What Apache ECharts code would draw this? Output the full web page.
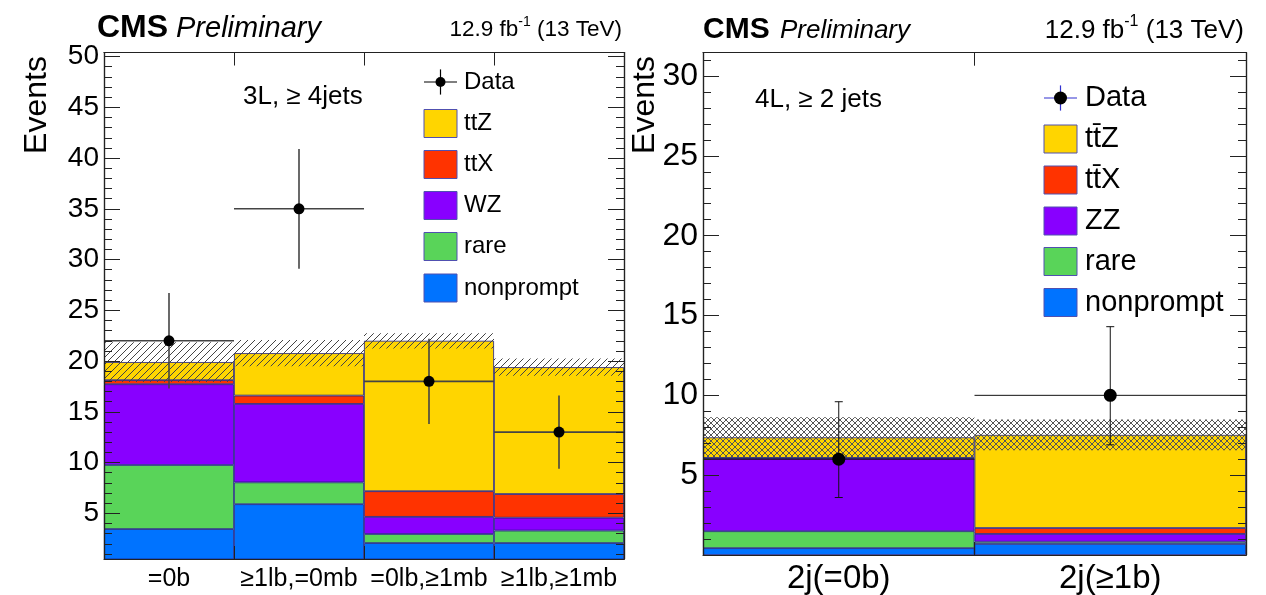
<!DOCTYPE html>
<html><head><meta charset="utf-8">
<script src="https://cdn.jsdelivr.net/npm/echarts@6/dist/echarts.min.js"></script>
<style>html,body{margin:0;padding:0;background:#fff}#c{width:1266px;height:595px}</style>
</head><body><div id="c"></div>
<script>
// ---------- Left panel: 3L, >= 4 jets ----------
const catsL = ['=0b', '≥1lb,=0mb', '=0lb,≥1mb', '≥1lb,≥1mb'];
const nonpromptL = [3.45, 5.90, 2.07, 2.07];
const rareL      = [6.31, 2.15, 0.89, 1.23];
const wzL        = [7.96, 7.73, 1.69, 1.27];
const ttxL       = [0.40, 0.82, 2.53, 2.33];
const ttzL       = [1.78, 4.18, 14.82, 12.50];
const uncL       = [1.95, 1.30, 0.75, 0.85];
const dataL      = [22, 35, 18, 13];
const dataErrLoL = [4.7, 5.9, 4.2, 3.6];
const dataErrHiL = [4.7, 5.9, 4.2, 3.6];
const yMajorL = [5, 10, 15, 20, 25, 30, 35, 40, 45, 50];
const yMinorL = [1,2,3,4,5,6,7,8,9,10,11,12,13,14,15,16,17,18,19,20,21,22,23,24,25,26,27,28,29,30,31,32,33,34,35,36,37,38,39,40,41,42,43,44,45,46,47,48,49,50];
const yRangeL = [0.5, 50.4];

// ---------- Right panel: 4L, >= 2 jets ----------
const catsR = ['2j(=0b)', '2j(≥1b)'];
const nonpromptR = [0.43, 0.69];
const rareR      = [1.06, 0.14];
const zzR        = [4.57, 0.49];
const ttxR       = [0.02, 0.37];
const ttzR       = [1.29, 5.83];
const uncR       = [1.26, 0.96];
const dataR      = [6, 10];
const dataErrLoR = [2.4, 3.1];
const dataErrHiR = [3.6, 4.3];
const yMajorR = [5, 10, 15, 20, 25, 30];
const yMinorR = [1,2,3,4,5,6,7,8,9,10,11,12,13,14,15,16,17,18,19,20,21,22,23,24,25,26,27,28,29,30,31];
const yRangeR = [0, 31.46];

// ---------- styles ----------
const COL = {ttz: '#ffd500', ttx: '#ff3300', vv: '#8800ff', rare: '#59d459', np: '#0073ff'};
const EDGE = '#1e1e80';
const FONT = '"Liberation Sans", Arial, Helvetica, sans-serif';

function hatchCanvas(cross, step, color) {
  const c = document.createElement('canvas');
  c.width = step; c.height = step;
  const g = c.getContext('2d');
  g.strokeStyle = color; g.lineWidth = 1;
  g.beginPath();
  g.moveTo(-1, step + 1); g.lineTo(step + 1, -1);
  g.moveTo(-1, 1); g.lineTo(1, -1);
  g.moveTo(step - 1, step + 1); g.lineTo(step + 1, step - 1);
  if (cross) {
    g.moveTo(-1, -1); g.lineTo(step + 1, step + 1);
    g.moveTo(step - 1, -1); g.lineTo(step + 1, 1);
    g.moveTo(-1, step - 1); g.lineTo(1, step + 1);
  }
  g.stroke();
  return c;
}
const hatchL = hatchCanvas(false, 7, '#444');
const hatchR = hatchCanvas(true, 6, '#555');

function sumArr(arrs) { return arrs[0].map((_, i) => arrs.reduce((s, a) => s + a[i], 0)); }
const totalL = sumArr([nonpromptL, rareL, wzL, ttxL, ttzL]);
const totalR = sumArr([nonpromptR, rareR, zzR, ttxR, ttzR]);

function barSeries(name, vals, color, xi, yi, stack) {
  return {type: 'bar', name, data: vals, stack, xAxisIndex: xi, yAxisIndex: yi,
    barWidth: '100%', barCategoryGap: '0%', z: 2, silent: true,
    itemStyle: {color, borderColor: EDGE, borderWidth: 0.8}};
}
function bandSeries(total, unc, hatch, xi, yi) {
  return {type: 'custom', xAxisIndex: xi, yAxisIndex: yi, z: 3, silent: true, clip: true,
    data: total.map((t, i) => [i, t, unc[i]]),
    renderItem(params, api) {
      const i = api.value(0), t = api.value(1), u = api.value(2);
      const c = api.coord([i, t]);
      const w = api.size([1, 0])[0];
      const top = api.coord([i, t + u])[1];
      const bot = api.coord([i, t - u])[1];
      return {type: 'rect', shape: {x: c[0] - w / 2, y: top, width: w, height: bot - top},
        style: {fill: {image: hatch, repeat: 'repeat'}, stroke: null}};
    }};
}
function dataSeries(vals, lo, hi, xi, yi, r, lineCol, lw, cap) {
  return {type: 'custom', xAxisIndex: xi, yAxisIndex: yi, z: 4, silent: true, clip: false,
    data: vals.map((v, i) => [i, v]),
    renderItem(params, api) {
      const i = api.value(0), v = api.value(1);
      const c = api.coord([i, v]);
      const w = api.size([1, 0])[0];
      const top = api.coord([i, v + hi[i]])[1];
      const bot = api.coord([i, v - lo[i]])[1];
      const st = {stroke: lineCol, lineWidth: lw};
      const ch = [
        {type: 'line', shape: {x1: c[0] - w / 2, y1: c[1], x2: c[0] + w / 2, y2: c[1]}, style: st},
        {type: 'line', shape: {x1: c[0], y1: top, x2: c[0], y2: bot}, style: st}
      ];
      if (cap) {
        ch.push({type: 'line', shape: {x1: c[0] - cap, y1: top, x2: c[0] + cap, y2: top}, style: st});
        ch.push({type: 'line', shape: {x1: c[0] - cap, y1: bot, x2: c[0] + cap, y2: bot}, style: st});
      }
      ch.push({type: 'circle', shape: {cx: c[0], cy: c[1], r}, style: {fill: '#000'}});
      return {type: 'group', children: ch};
    }};
}

function xAxes(cats, gi, labelSize, labelMargin) {
  const common = {type: 'category', data: cats, gridIndex: gi, boundaryGap: true, z: 10,
    axisLine: {show: true, onZero: false, lineStyle: {color: '#222', width: 1.2}},
    axisTick: {show: true, inside: true, length: 13, alignWithLabel: false, lineStyle: {color: '#222', width: 1}},
    splitLine: {show: false}};
  return [
    Object.assign({}, common, {position: 'bottom',
      axisLabel: {show: true, interval: 0, color: '#000', fontFamily: FONT, fontSize: labelSize, margin: labelMargin}}),
    Object.assign({}, common, {position: 'top', axisLabel: {show: false}})
  ];
}
function yAxes(range, major, minor, gi, labelSize) {
  const base = {type: 'value', gridIndex: gi, min: range[0], max: range[1], z: 10,
    splitLine: {show: false}, axisLine: {show: true, onZero: false, lineStyle: {color: '#222', width: 1.2}}};
  const majorTick = {show: true, inside: true, length: 16, customValues: major, lineStyle: {color: '#222', width: 1}};
  const minorTick = {show: true, inside: true, length: 8, customValues: minor, lineStyle: {color: '#222', width: 1}};
  return [
    Object.assign({}, base, {position: 'left', axisTick: majorTick,
      axisLabel: {show: true, customValues: major, color: '#000', fontFamily: FONT, fontSize: labelSize, margin: 5}}),
    Object.assign({}, base, {position: 'left', axisTick: minorTick, axisLabel: {show: false}}),
    Object.assign({}, base, {position: 'right', axisTick: majorTick, axisLabel: {show: false}}),
    Object.assign({}, base, {position: 'right', axisTick: minorTick, axisLabel: {show: false}})
  ];
}

// ---------- text helpers ----------
const measureCtx = document.createElement('canvas').getContext('2d');
function tw(t, font) { measureCtx.font = font; return measureCtx.measureText(t).width; }
function txt(text, x, y, size, opts) {
  opts = opts || {};
  const font = (opts.italic ? 'italic ' : '') + (opts.bold ? 'bold ' : '') + size + 'px ' + FONT;
  return {type: 'text', x, y, rotation: opts.rotation || 0, z: 20, silent: true,
    style: {text, font, fill: '#000', align: opts.align || 'left', verticalAlign: 'middle'}};
}
function lumi(xRight, yMid, size) {
  const f = size + 'px ' + FONT;
  const fsz = Math.round(size * 0.62);
  const fs = fsz + 'px ' + FONT;
  const a = '12.9 fb', b = '-1', c = ' (13 TeV)';
  const w1 = tw(a, f), w2 = tw(b, fs), w3 = tw(c, f);
  const x0 = xRight - w1 - w2 - w3;
  return [txt(a, x0, yMid, size), txt(b, x0 + w1, yMid - size * 0.36, fsz), txt(c, x0 + w1 + w2, yMid, size)];
}
function legend(x0, rows, boxW, boxH, textX, size, dataLineCol) {
  const els = [];
  rows.forEach((r) => {
    if (r.data) {
      els.push({type: 'line', z: 20, shape: {x1: x0, y1: r.y, x2: x0 + boxW, y2: r.y}, style: {stroke: dataLineCol, lineWidth: 1.2}});
      els.push({type: 'line', z: 20, shape: {x1: x0 + boxW / 2, y1: r.y - boxH * 0.45, x2: x0 + boxW / 2, y2: r.y + boxH * 0.45}, style: {stroke: dataLineCol, lineWidth: 1.2}});
      els.push({type: 'circle', z: 21, shape: {cx: x0 + boxW / 2, cy: r.y, r: r.r}, style: {fill: '#000'}});
    } else {
      els.push({type: 'rect', z: 20, shape: {x: x0, y: r.y - boxH / 2, width: boxW, height: boxH}, style: {fill: r.color, stroke: '#5050b0', lineWidth: 1}});
    }
    els.push(txt(r.label, textX, r.y, size));
  });
  return els;
}

const graphics = [].concat(
  [txt('CMS', 97, 28, 32, {bold: true}), txt('Preliminary', 176, 29, 29, {italic: true})],
  lumi(622, 30, 22.5),
  [txt('CMS', 703, 30, 30, {bold: true}), txt('Preliminary', 780, 31, 26, {italic: true})],
  lumi(1244, 31, 26),
  [txt('Events', 37, 105, 32, {rotation: Math.PI / 2, align: 'center'}),
   txt('Events', 645, 105, 32, {rotation: Math.PI / 2, align: 'center'}),
   txt('3L, ≥ 4jets', 243, 97, 26),
   txt('4L, ≥ 2 jets', 755, 100, 26)],
  legend(424, [
    {data: true, y: 82, label: 'Data', r: 5},
    {y: 123.5, label: 'ttZ', color: COL.ttz},
    {y: 164.5, label: 'ttX', color: COL.ttx},
    {y: 205.5, label: 'WZ', color: COL.vv},
    {y: 246.5, label: 'rare', color: COL.rare},
    {y: 288, label: 'nonprompt', color: COL.np}], 33, 28, 464, 24, '#000'),
  legend(1044, [
    {data: true, y: 98, label: 'Data', r: 6.5},
    {y: 139, label: 'tt\u0304Z', color: COL.ttz},
    {y: 180, label: 'tt\u0304X', color: COL.ttx},
    {y: 221, label: 'ZZ', color: COL.vv},
    {y: 261.5, label: 'rare', color: COL.rare},
    {y: 302.5, label: 'nonprompt', color: COL.np}], 33, 28, 1085, 29, '#3030d0')
);

const option = {
  animation: false,
  backgroundColor: '#fff',
  grid: [
    {left: 104, top: 52.5, width: 520, height: 506.5, containLabel: false},
    {left: 703, top: 52.7, width: 543, height: 502.3, containLabel: false}
  ],
  xAxis: [].concat(xAxes(catsL, 0, 25, 8), xAxes(catsR, 1, 33, 7)),
  yAxis: [].concat(yAxes(yRangeL, yMajorL, yMinorL, 0, 28), yAxes(yRangeR, yMajorR, yMinorR, 1, 32)),
  series: [
    barSeries('nonprompt', nonpromptL, COL.np, 0, 0, 'L'),
    barSeries('rare', rareL, COL.rare, 0, 0, 'L'),
    barSeries('WZ', wzL, COL.vv, 0, 0, 'L'),
    barSeries('ttX', ttxL, COL.ttx, 0, 0, 'L'),
    barSeries('ttZ', ttzL, COL.ttz, 0, 0, 'L'),
    bandSeries(totalL, uncL, hatchL, 0, 0),
    dataSeries(dataL, dataErrLoL, dataErrHiL, 0, 0, 5.5, '#444', 1.6, 0),
    barSeries('nonprompt', nonpromptR, COL.np, 2, 4, 'R'),
    barSeries('rare', rareR, COL.rare, 2, 4, 'R'),
    barSeries('ZZ', zzR, COL.vv, 2, 4, 'R'),
    barSeries('ttX', ttxR, COL.ttx, 2, 4, 'R'),
    barSeries('ttZ', ttzR, COL.ttz, 2, 4, 'R'),
    bandSeries(totalR, uncR, hatchR, 2, 4),
    dataSeries(dataR, dataErrLoR, dataErrHiR, 2, 4, 6.5, '#111', 1, 4)
  ],
  graphic: graphics
};
const chart = echarts.init(document.getElementById('c'), null, {renderer: 'canvas'});
chart.setOption(option);
</script>
</body></html>
